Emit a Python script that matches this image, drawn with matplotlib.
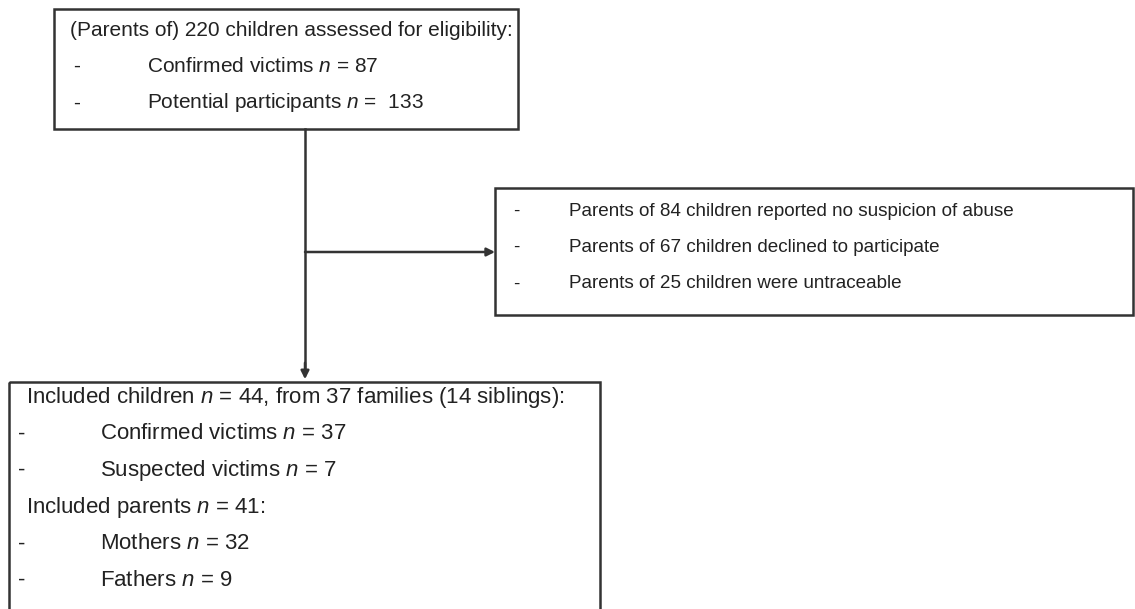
import matplotlib
matplotlib.use("Agg")
import matplotlib.pyplot as plt
from matplotlib.patches import Rectangle

plt.rcParams['font.family'] = ['Liberation Sans', 'DejaVu Sans']
plt.rcParams['mathtext.fontset'] = 'custom'
plt.rcParams['mathtext.it'] = 'Liberation Sans:italic'
plt.rcParams['mathtext.rm'] = 'Liberation Sans'

# box contents: (indent level, text)
top_lines = [
    (0, "(Parents of) 220 children assessed for eligibility:"),
    (1, "Confirmed victims $n$ = 87"),
    (1, "Potential participants $n$ =  133"),
]
excl_lines = [
    (1, "Parents of 84 children reported no suspicion of abuse"),
    (1, "Parents of 67 children declined to participate"),
    (1, "Parents of 25 children were untraceable"),
]
incl_lines = [
    (0, "Included children $n$ = 44, from 37 families (14 siblings):"),
    (1, "Confirmed victims $n$ = 37"),
    (1, "Suspected victims $n$ = 7"),
    (0, "Included parents $n$ = 41:"),
    (1, "Mothers $n$ = 32"),
    (1, "Fathers $n$ = 9"),
]

W, H = 1135, 609
fig = plt.figure(figsize=(W / 100, H / 100), dpi=100)
ax = fig.add_axes([0, 0, 1, 1])
ax.set_xlim(0, W)
ax.set_ylim(H, 0)
ax.axis('off')

ec = '#333333'
tc = '#222222'


def box(x0, y0, x1, y1, lines, y_first, step, x_text, x_dash, x_ind, fs):
    ax.add_patch(Rectangle((x0, y0), x1 - x0, y1 - y0, fill=False,
                           edgecolor=ec, linewidth=1.8, clip_on=False))
    for i, (lvl, txt) in enumerate(lines):
        y = y_first + i * step
        if lvl == 0:
            ax.text(x_text, y, txt, fontsize=fs, va='center', ha='left', color=tc)
        else:
            ax.text(x_dash, y, "-", fontsize=fs, va='center', ha='left', color=tc)
            ax.text(x_ind, y, txt, fontsize=fs, va='center', ha='left', color=tc)


box(54, 9, 518, 129, top_lines, 30, 36.5, 70, 73, 147, 15.0)
box(495, 188, 1133, 315, excl_lines, 211, 36.5, 0, 513, 569, 13.6)
box(9, 382, 600, 640, incl_lines, 397, 36.7, 26, 18, 100, 16.0)

# connectors
ax.plot([305, 305], [129, 368], color=ec, lw=1.8)
ax.annotate("", xy=(305, 382), xytext=(305, 360),
            arrowprops=dict(arrowstyle='-|>', color=ec, lw=1.8, mutation_scale=12))
ax.annotate("", xy=(495, 252), xytext=(305, 252),
            arrowprops=dict(arrowstyle='-|>', color=ec, lw=1.8, mutation_scale=12,
                            shrinkA=0, shrinkB=0))

fig.savefig("out.png", dpi=100)
